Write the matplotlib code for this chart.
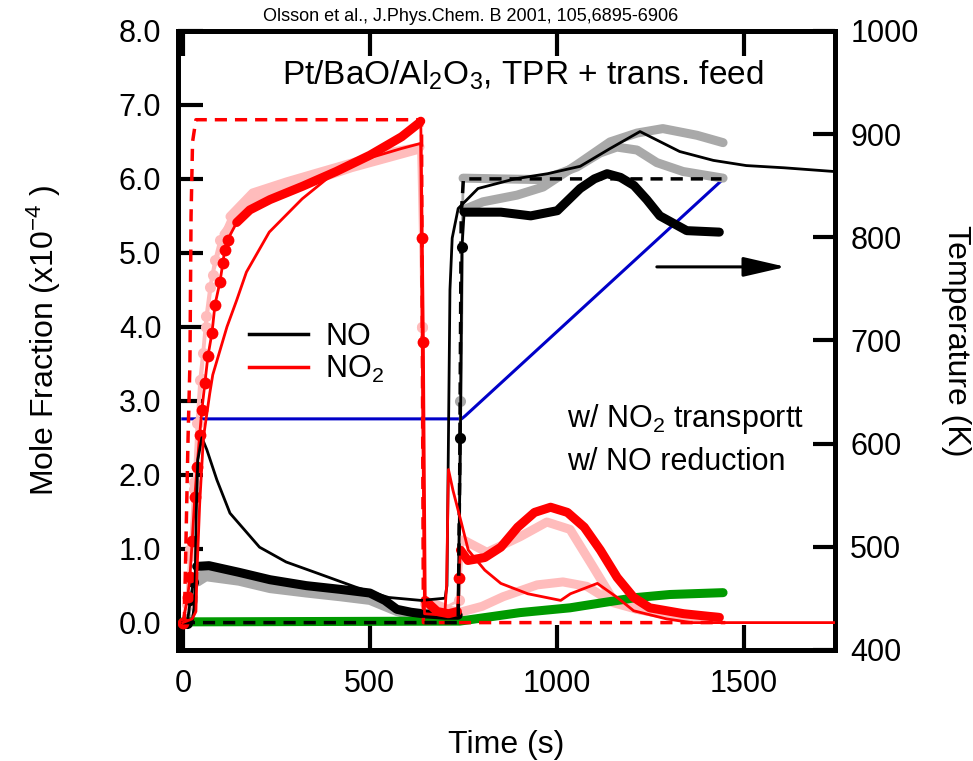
import numpy as np
import matplotlib
matplotlib.use('Agg')
import matplotlib.pyplot as plt
from matplotlib.lines import Line2D
from matplotlib.ticker import FormatStrFormatter, MultipleLocator

plt.rcParams['font.family'] = ['Liberation Sans', 'DejaVu Sans']
plt.rcParams['mathtext.fontset'] = 'custom'
plt.rcParams['mathtext.rm'] = 'Liberation Sans'
plt.rcParams['mathtext.it'] = 'Liberation Sans:italic'
plt.rcParams['mathtext.bf'] = 'Liberation Sans:bold'

# ---- data (time in s, mole fraction in 1e-4, T in K) ----
# inlet feeds (dashed)
feed_no2_t = [0, 4, 8, 14, 19, 22, 26, 35, 638, 643, 1450]
feed_no2_v = [0, 0, 1.0, 2.5, 3.5, 5.5, 6.5, 6.8, 6.8, 0, 0]
feed_no_t = [0, 736, 740, 744, 750, 1440]
feed_no_v = [0, 0, 2.0, 5.5, 6.0, 6.0]

# catalyst temperature
temp_t = [0, 745, 755, 770, 1440]
temp_K = [624, 624, 627, 632, 855]

# experiment NO2 (red, with markers)
red_t = [0, 13, 19, 25, 32, 38, 45, 51, 59, 67, 78, 86, 99, 107, 112, 120, 144,
         179, 233, 320, 410, 500, 585, 630, 636, 640, 643, 648, 680, 710, 734,
         738, 742, 762, 807, 850, 895, 940, 983, 1028, 1073, 1116, 1161, 1205,
         1248, 1339, 1434]
red_v = [0, 0.35, 0.62, 1.1, 1.7, 2.1, 2.54, 2.88, 3.24, 3.6, 3.92, 4.3, 4.6,
         4.86, 5.04, 5.18, 5.41, 5.58, 5.72, 5.9, 6.1, 6.32, 6.57, 6.75, 6.78,
         5.2, 3.8, 0.3, 0.15, 0.12, 0.15, 0.6, 0.98, 0.84, 0.88, 1.02, 1.29,
         1.49, 1.56, 1.49, 1.29, 0.98, 0.61, 0.34, 0.2, 0.12, 0.07]

# experiment NO2, repeat runs (pink)
pink1_t = [0, 10, 20, 30, 38, 45, 53, 62, 72, 85, 99, 126, 187, 278, 366, 455,
           545, 634, 640, 646, 700, 738, 749, 813, 901, 973, 1035, 1096, 1150,
           1214, 1300, 1434]
pink1_v = [0, 0.3, 1.0, 1.9, 2.7, 3.28, 3.65, 4.15, 4.54, 4.9, 5.18, 5.49, 5.81,
           5.96, 6.09, 6.22, 6.35, 6.43, 4.0, 0.3, 0.2, 0.3, 1.12, 0.95, 1.16,
           1.36, 1.26, 0.76, 0.31, 0.18, 0.1, 0.07]
pink2_t = [0, 10, 20, 30, 40, 50, 62, 80, 110, 180, 300, 450, 630, 640, 646,
           700, 741, 800, 856, 947, 1016, 1080, 1150, 1214, 1300, 1434]
pink2_v = [0, 0.25, 0.9, 1.8, 2.7, 3.3, 4.0, 4.7, 5.25, 5.7, 5.9, 6.15, 6.4,
           4.0, 0.25, 0.18, 0.14, 0.22, 0.35, 0.51, 0.55, 0.49, 0.27, 0.18,
           0.1, 0.07]

# experiment NO (black thick) and repeat runs (gray)
black_t = [0, 12, 20, 28, 37, 70, 150, 233, 330, 420, 500, 540, 572, 610, 642,
           700, 736, 742, 746, 752, 797, 850, 930, 1001, 1062, 1100, 1134, 1170,
           1206, 1240, 1275, 1347, 1434]
black_v = [0, 0, 0.3, 0.55, 0.76, 0.77, 0.68, 0.58, 0.5, 0.45, 0.4, 0.3, 0.18,
           0.14, 0.12, 0.1, 0.1, 2.5, 5.08, 5.55, 5.55, 5.55, 5.5, 5.57, 5.87,
           6.0, 6.07, 6.02, 5.91, 5.72, 5.5, 5.3, 5.28]
grayA_t = [0, 14, 25, 40, 62, 150, 233, 330, 420, 500, 572, 610, 650, 736, 742,
           749, 802, 893, 963, 1053, 1142, 1214, 1283, 1374, 1444]
grayA_v = [0, 0.05, 0.3, 0.55, 0.62, 0.56, 0.46, 0.4, 0.35, 0.3, 0.15, 0.1,
           0.07, 0.06, 2.5, 5.58, 5.69, 5.78, 5.89, 6.19, 6.5, 6.62, 6.68, 6.59,
           6.49]
grayB_t = [0, 14, 25, 40, 65, 150, 233, 330, 420, 500, 572, 610, 650, 736, 742,
           749, 848, 963, 1053, 1115, 1160, 1214, 1267, 1337, 1444]
grayB_v = [0, 0.05, 0.35, 0.6, 0.7, 0.64, 0.54, 0.46, 0.4, 0.35, 0.17, 0.12,
           0.08, 0.07, 3.0, 6.01, 6.0, 5.99, 6.16, 6.35, 6.43, 6.39, 6.22, 6.1,
           6.01]

# other product (green)
green_t = [0, 740, 901, 1035, 1123, 1214, 1302, 1444]
green_v = [0.01, 0.02, 0.135, 0.2, 0.27, 0.34, 0.38, 0.405]

# model predictions (thin lines)
model_no_t = [0, 25, 32, 36, 40, 51, 64, 91, 126, 205, 276, 364, 462, 550, 637,
              701, 706, 710, 714, 720, 736, 789, 887, 975, 1062, 1142, 1222,
              1328, 1418, 1506, 1607, 1740]
model_no_v = [0, 0, 0.3, 1.5, 2.2, 2.5, 2.34, 1.93, 1.48, 1.02, 0.82, 0.66,
              0.48, 0.34, 0.3, 0.33, 0.5, 2.5, 4.5, 5.2, 5.6, 5.87, 6.0, 6.07,
              6.17, 6.41, 6.64, 6.37, 6.25, 6.18, 6.15, 6.1]
model_no2_t = [0, 25, 35, 38, 45, 55, 72, 80, 118, 144, 170, 231, 319, 409, 497,
               584, 636, 641, 646, 700, 705, 710, 722, 745, 763, 807, 850, 922,
               1010, 1036, 1108, 1161, 1205, 1293, 1360, 1740]
model_no2_v = [0, 0.05, 0.15, 0.7, 1.6, 2.5, 3.1, 3.35, 4.0, 4.36, 4.74, 5.28,
               5.73, 6.1, 6.28, 6.41, 6.48, 3.0, 0.12, 0.1, 0.5, 2.07, 1.79,
               1.34, 0.98, 0.71, 0.53, 0.39, 0.3, 0.39, 0.53, 0.34, 0.16, 0.05,
               0.0, 0.0]

RED = '#ff0000'
PINK = '#ffbcbc'
GRAY = '#a9a9a9'
GREEN = '#009a00'
BLUE = '#0000c8'

fig = plt.figure(figsize=(9.73, 7.61), dpi=100)
ax = fig.add_axes([0.1829, 0.1459, 0.6752, 0.8134])
ax2 = ax.twinx()
ax.set_zorder(2)
ax.patch.set_visible(False)


def draw_exp(t, v, color, thick, ms, z):
    # thin connecting line, thick band on slow parts, dots on fast parts
    t = np.asarray(t, float)
    v = np.asarray(v, float)
    ax.plot(t, v, color=color, lw=2, zorder=z)
    inside = np.zeros(len(t), bool)
    for a, b in thick:
        m = (t >= a) & (t <= b)
        inside |= m
        ax.plot(t[m], v[m], color=color, lw=6.5, solid_capstyle='round',
                solid_joinstyle='round', zorder=z)
    ax.plot(t[~inside], v[~inside], 'o', color=color, ms=ms, mec='none', zorder=z)


ax2.plot(temp_t, temp_K, color=BLUE, lw=2.2)

draw_exp(grayA_t, grayA_v, GRAY, [(30, 736), (749, 1450)], 8, 2)
draw_exp(grayB_t, grayB_v, GRAY, [(30, 736), (749, 1450)], 8, 2)
draw_exp(pink1_t, pink1_v, PINK, [(120, 636), (646, 736), (749, 1450)], 8, 2)
draw_exp(pink2_t, pink2_v, PINK, [(100, 630), (646, 1450)], 8, 2)
ax.plot(green_t, green_v, color=GREEN, lw=6.5, solid_capstyle='round', zorder=3)
draw_exp(black_t, black_v, 'k', [(30, 736), (752, 1450)], 8, 4)
draw_exp(red_t, red_v, RED, [(144, 636), (648, 736), (742, 1450)], 8.5, 4)

ax.plot(feed_no2_t, feed_no2_v, color=RED, lw=2.5, dashes=(3.5, 2.3), zorder=5)
ax.plot(feed_no_t, feed_no_v, color='k', lw=2.5, dashes=(3.5, 2.3), zorder=5)
ax.plot(model_no_t, model_no_v, color='k', lw=2, zorder=6)
ax.plot(model_no2_t, model_no2_v, color=RED, lw=2, zorder=6)

ax.set_xlim(-13, 1743)
ax.set_ylim(-0.37, 8.0)
ax2.set_ylim(400, 1000)

ax.xaxis.set_major_locator(MultipleLocator(500))
ax.yaxis.set_major_locator(MultipleLocator(1.0))
ax.yaxis.set_major_formatter(FormatStrFormatter('%.1f'))
ax2.yaxis.set_major_locator(MultipleLocator(100))

for a in (ax, ax2):
    for s in a.spines.values():
        s.set_linewidth(3.5)
ax.tick_params(axis='both', direction='in', length=18, width=3, labelsize=22,
               top=True, right=False)
ax.tick_params(axis='y', pad=12)
ax.tick_params(axis='x', pad=14)
ax2.tick_params(axis='y', direction='in', length=16, width=3, labelsize=22, pad=11)

ax.set_xlabel('Time (s)', fontsize=23, labelpad=22)
ax.set_ylabel('Mole Fraction (x10$^{-4}$ )', fontsize=23)
ax.yaxis.set_label_coords(-0.175, 0.5)
ax2.set_ylabel('Temperature (K)', fontsize=23, rotation=270, labelpad=38)

leg = ax.legend([Line2D([], [], color='k', lw=2.5), Line2D([], [], color=RED, lw=2.5)],
                ['NO', 'NO$_2$'], loc='upper left', bbox_to_anchor=(0.1076, 0.53),
                frameon=False, fontsize=22, borderpad=0, borderaxespad=0,
                handlelength=1.95, handletextpad=0.55, labelspacing=0.05)

ax.text(0.159, 0.913, 'Pt/BaO/Al$_2$O$_3$, TPR + trans. feed', transform=ax.transAxes,
        fontsize=24, va='baseline')
ax.text(0.592, 0.36, 'w/ NO$_2$ transportt', transform=ax.transAxes,
        fontsize=22, va='baseline')
ax.text(0.592, 0.291, 'w/ NO reduction', transform=ax.transAxes,
        fontsize=22, va='baseline')

ax.annotate('', xy=(1612, 4.81), xytext=(1267, 4.81),
            arrowprops=dict(arrowstyle='-|>,head_length=2.6,head_width=0.6',
                            color='k', lw=2.2, mutation_scale=10, shrinkA=0, shrinkB=0))

fig.text(0.484, 0.978, 'Olsson et al., J.Phys.Chem. B 2001, 105,6895-6906',
         ha='center', va='center', fontsize=13,
         family=['Liberation Sans Narrow', 'Liberation Sans', 'DejaVu Sans'])

fig.savefig('out.png', dpi=100)
